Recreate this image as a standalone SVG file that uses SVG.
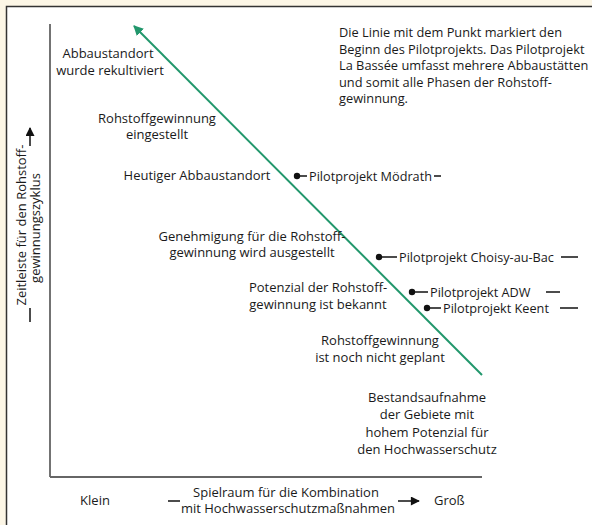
<svg xmlns="http://www.w3.org/2000/svg" width="592" height="525" viewBox="0 0 592 525">
<defs>
<marker id="ga" viewBox="0 0 10 10" refX="9" refY="5" markerWidth="10" markerHeight="10" markerUnits="userSpaceOnUse" orient="auto">
<path d="M0,0 L10,5 L0,10 z" fill="#22976c"/>
</marker>
<marker id="ka" viewBox="0 0 10 10" refX="9" refY="5" markerWidth="10" markerHeight="9" markerUnits="userSpaceOnUse" orient="auto">
<path d="M0,0 L10,5 L0,10 z" fill="#111"/>
</marker>
<style>
text{font-family:"Open Sans","Liberation Sans",sans-serif;font-size:13px;fill:#1a1a1a}
.c{text-anchor:middle}
.p{font-size:12.7px}
.n{font-size:12.8px}
.k{stroke:#111;stroke-width:1.5;fill:none}
.dot{fill:#111}
</style>
</defs>
<rect x="0" y="0" width="592" height="525" fill="#fcf6e6"/>
<rect x="6.5" y="6.5" width="600" height="530" fill="#fff" stroke="#333" stroke-width="1.5"/>

<g id="connectors">
<line x1="50" y1="24" x2="50" y2="477" stroke="#444" stroke-width="1.5"/>
<line x1="50" y1="477" x2="482" y2="477" stroke="#666" stroke-width="2"/>
<line x1="482" y1="375" x2="134" y2="26" stroke="#22976c" stroke-width="2" marker-end="url(#ga)"/>
</g>

<g id="note" class="n">
<text class="n" x="339" y="37">Die Linie mit dem Punkt markiert den</text>
<text class="n" x="339" y="54">Beginn des Pilotprojekts. Das Pilotprojekt</text>
<text class="n" x="339" y="70">La Bassée umfasst mehrere Abbaustätten</text>
<text class="n" x="339" y="87">und somit alle Phasen der Rohstoff-</text>
<text class="n" x="339" y="103">gewinnung.</text>
</g>

<g id="stage-rekultiviert">
<text class="c" x="108" y="58">Abbaustandort</text>
<text class="c" x="110" y="75">wurde rekultiviert</text>
</g>
<g id="stage-eingestellt">
<text class="c" x="157" y="123">Rohstoffgewinnung</text>
<text class="c" x="157" y="139">eingestellt</text>
</g>
<g id="stage-heutiger">
<text class="c" x="197" y="180">Heutiger Abbaustandort</text>
</g>
<g id="stage-genehmigung">
<text class="c" x="252" y="241">Genehmigung für die Rohstoff-</text>
<text class="c" x="252" y="257">gewinnung wird ausgestellt</text>
</g>
<g id="stage-potenzial">
<text class="c" x="318" y="292">Potenzial der Rohstoff-</text>
<text class="c" x="318" y="309">gewinnung ist bekannt</text>
</g>
<g id="stage-geplant">
<text class="c" x="380" y="345">Rohstoffgewinnung</text>
<text class="c" x="380" y="362">ist noch nicht geplant</text>
</g>
<g id="stage-bestand">
<text class="c" x="427" y="402">Bestandsaufnahme</text>
<text class="c" x="427" y="419">der Gebiete mit</text>
<text class="c" x="427" y="437">hohem Potenzial für</text>
<text class="c" x="427" y="454">den Hochwasserschutz</text>
</g>

<g id="pilot-moedrath">
<circle class="dot" cx="297" cy="176" r="3.2"/>
<line class="k" x1="297" y1="176" x2="307" y2="176"/>
<text class="p" x="309" y="180.5">Pilotprojekt Mödrath</text>
<line class="k" x1="434" y1="176" x2="441" y2="176"/>
</g>
<g id="pilot-choisy">
<circle class="dot" cx="379" cy="257" r="3.2"/>
<line class="k" x1="379" y1="257" x2="397" y2="257"/>
<text class="p" x="399" y="261.5">Pilotprojekt Choisy-au-Bac</text>
<line class="k" x1="561" y1="257" x2="578" y2="257"/>
</g>
<g id="pilot-adw">
<circle class="dot" cx="412" cy="292" r="3.2"/>
<line class="k" x1="412" y1="292" x2="428" y2="292"/>
<text class="p" x="430" y="296.5">Pilotprojekt ADW</text>
<line class="k" x1="546" y1="292" x2="560" y2="292"/>
</g>
<g id="pilot-keent">
<circle class="dot" cx="427" cy="308" r="3.2"/>
<line class="k" x1="427" y1="308" x2="441" y2="308"/>
<text class="p" x="443" y="312.5">Pilotprojekt Keent</text>
<line class="k" x1="560" y1="308" x2="578" y2="308"/>
</g>

<g id="y-axis-label">
<text class="c" transform="translate(26,225) rotate(-90)">Zeitleiste für den Rohstoff-</text>
<text class="c" transform="translate(40,228) rotate(-90)">gewinnungszyklus</text>
<line class="k" x1="30" y1="308" x2="30" y2="322"/>
<line class="k" x1="30" y1="146" x2="30" y2="128" marker-end="url(#ka)"/>
</g>

<g id="x-axis-label">
<text class="c" x="95" y="505">Klein</text>
<line class="k" x1="168" y1="501" x2="180" y2="501"/>
<text class="c" x="286" y="497">Spielraum für die Kombination</text>
<text class="c" x="288" y="513">mit Hochwasserschutzmaßnahmen</text>
<line class="k" x1="398" y1="501" x2="419" y2="501" marker-end="url(#ka)"/>
<text x="434" y="505">Groß</text>
</g>
</svg>
